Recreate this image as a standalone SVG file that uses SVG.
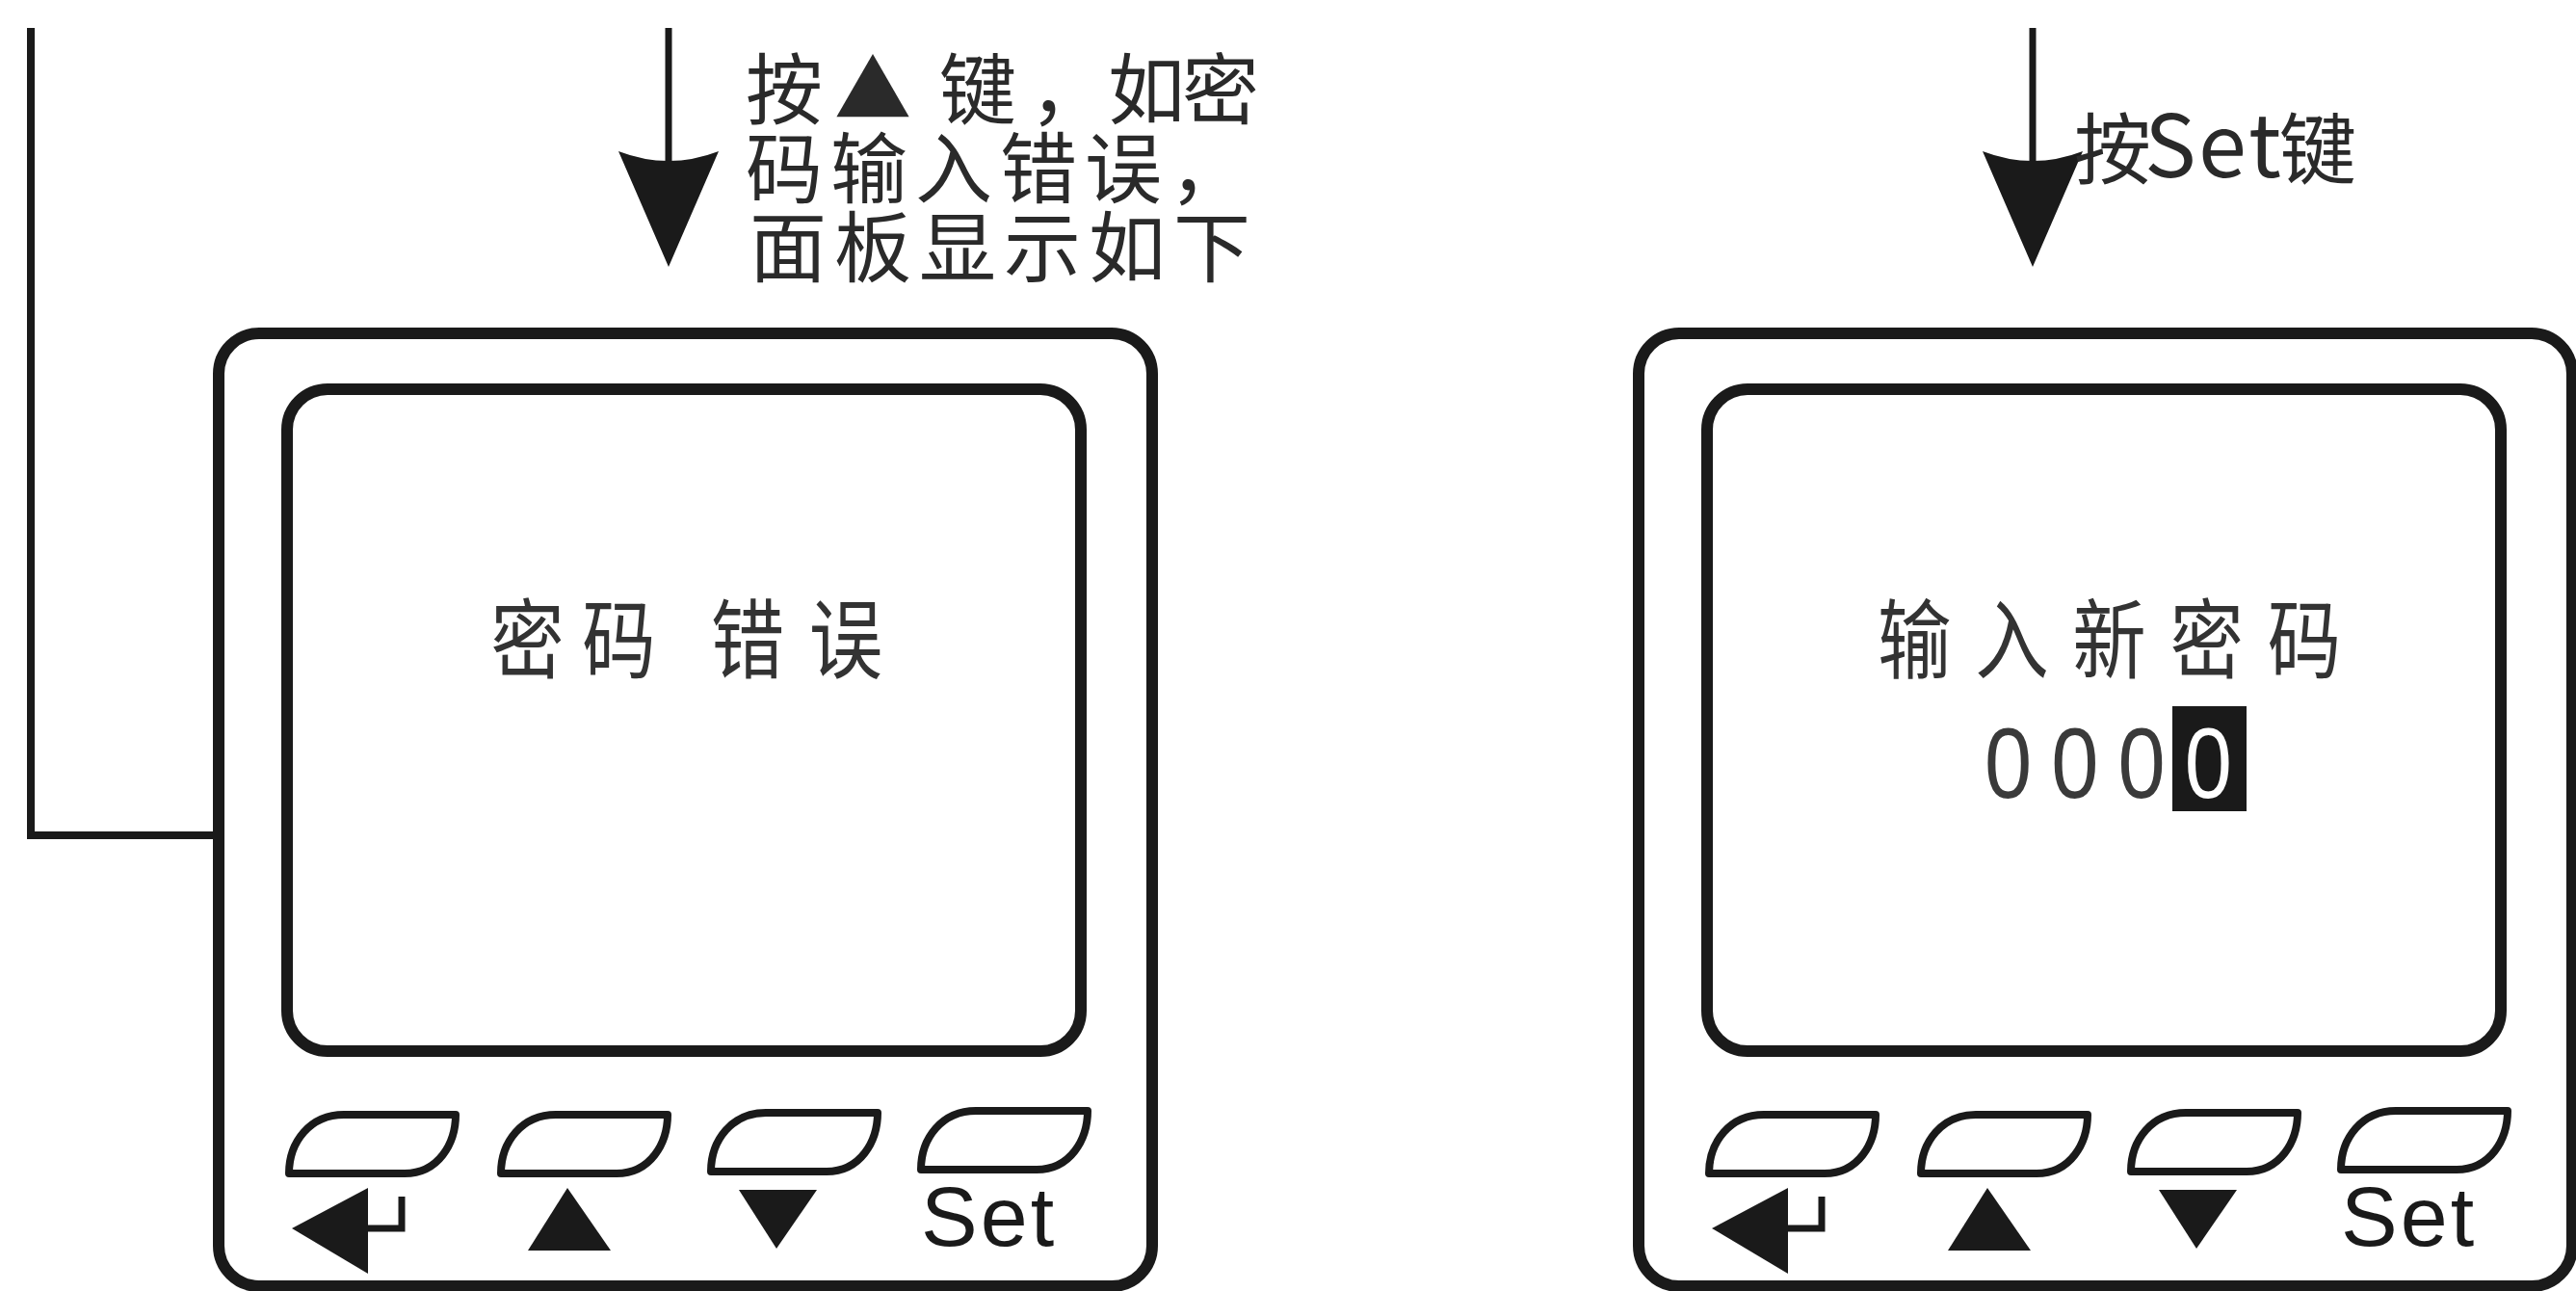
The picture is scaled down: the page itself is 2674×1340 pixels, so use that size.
<svg xmlns="http://www.w3.org/2000/svg" xmlns:xlink="http://www.w3.org/1999/xlink" width="2674" height="1340" viewBox="0 0 2674 1340">
<style>
.frame{fill:none;stroke:#1a1a1a;stroke-width:12}
.btn{fill:none;stroke:#1a1a1a;stroke-width:8;stroke-linejoin:round}
.ico{fill:#1a1a1a;stroke:none}
.hook{fill:none;stroke:#1a1a1a;stroke-width:7}
.conn{fill:none;stroke:#1a1a1a;stroke-width:8}
.shaft{fill:none;stroke:#1a1a1a;stroke-width:7}
.cjk{font-family:"Noto Sans CJK SC","Noto Sans CJK JP",sans-serif;fill:#2a2a2a}
.lbl{font-size:80px}
.sp{letter-spacing:8px}
.scr{font-size:90px;fill:#333}
.dig{font-family:"Liberation Sans",Arial,sans-serif;font-size:104px;fill:#3a3a3a}
.set{font-family:"Liberation Sans",Arial,sans-serif;font-size:88px;letter-spacing:3px;fill:#1a1a1a}
</style>
<defs>
<marker id="arrowhead" markerUnits="userSpaceOnUse" viewBox="-50 -60 140 120" markerWidth="140" markerHeight="120" refX="0" refY="0" orient="auto" overflow="visible">
<path d="M-43,-52 Q-23,0 -43,52 L77,0 Z" fill="#1a1a1a"/>
</marker>
<path id="keycap" d="M0,61 C0,28 22,0 57,0 L173,0 C173,30 155,61 120,61 Z"/>
<g id="panel">
<rect class="frame" x="227" y="346" width="969" height="989" rx="42"/>
<rect class="frame" x="298" y="404" width="824" height="687" rx="42"/>
<use xlink:href="#keycap" href="#keycap" class="btn" x="300" y="1157"/>
<use xlink:href="#keycap" href="#keycap" class="btn" x="520" y="1157"/>
<use xlink:href="#keycap" href="#keycap" class="btn" x="738" y="1155"/>
<use xlink:href="#keycap" href="#keycap" class="btn" x="956" y="1153"/>
<path class="ico" d="M303,1275 L382,1233 L382,1322 Z"/>
<path class="hook" d="M380,1275 L417,1275 L417,1242"/>
<path class="ico" d="M548,1298 L634,1298 L589,1233 Z"/>
<path class="ico" d="M767,1235 L848,1235 L806,1296 Z"/>
<text class="set" x="956" y="1293">Set</text>
</g>
</defs>
<g id="connectors">
<polyline class="conn" points="32,29 32,867 227,867"/>
<line class="shaft" x1="694" y1="29" x2="694" y2="200" marker-end="url(#arrowhead)"/>
<line class="shaft" x1="2110" y1="29" x2="2110" y2="200" marker-end="url(#arrowhead)"/>
</g>
<g id="label-up-key">
<text class="cjk lbl" x="774 866 975 1069 1150 1227" y="122">按▲键，如密</text>
<text class="cjk lbl sp" x="774" y="204">码输入错误，</text>
<text class="cjk lbl sp" x="778" y="286">面板显示如下</text>
</g>
<g id="label-set-key">
<text class="cjk lbl" x="2153" y="184">按<tspan x="2226 2282 2334" font-size="90">Set</tspan><tspan x="2366">键</tspan></text>
</g>
<g id="panel-password-error">
<use xlink:href="#panel" href="#panel"/>
<g transform="scale(0.85,1)">
<text class="cjk scr" x="599 711 800 868 988" y="697">密码 错误</text>
</g>
</g>
<g id="panel-new-password">
<use xlink:href="#panel" href="#panel" x="1474"/>
<g transform="scale(0.85,1)">
<text class="cjk scr" x="2293 2412 2531 2650 2769" y="697">输入新密码</text>
</g>
<rect x="2255" y="733" width="77" height="109" fill="#1a1a1a"/>
<g transform="translate(2060,828) scale(0.85,1)">
<text class="dig" x="0 81.5 163 244.5" y="0">000<tspan fill="#ffffff">0</tspan></text>
</g>
</g>
</svg>
